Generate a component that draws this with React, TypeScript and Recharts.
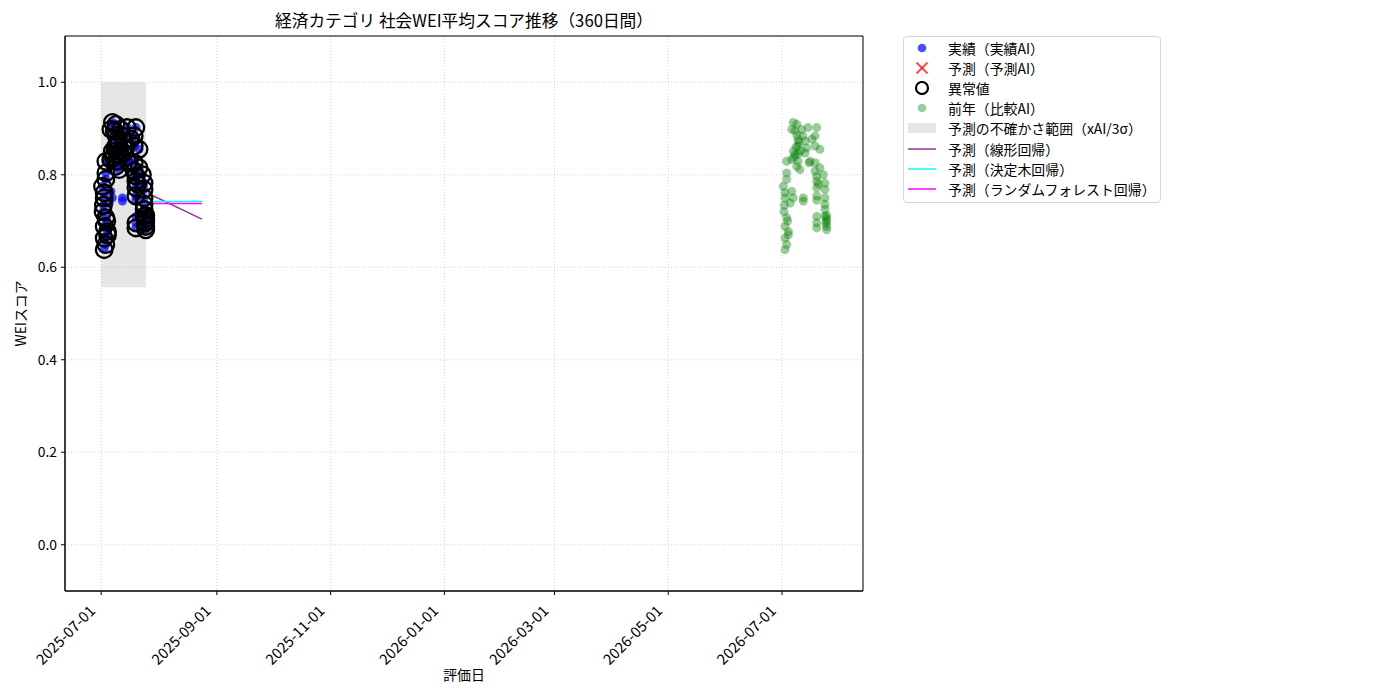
import React from 'react';
import { ComposedChart, Scatter, XAxis, YAxis, CartesianGrid, ReferenceArea, Label } from 'recharts';

const DAY_MS = 86400000;
const ACTUAL_START = '2025-07-01';
const PREV_YEAR_START = '2026-07-01';
const X_DOMAIN_DAYS = [-19.4, 408.4];
const Y_DOMAIN = [-0.1, 1.1];

// day offsets (from start date) and WEI scores of each evaluation
const dayOffsets = [
  0.7, 1.6, 1.6, 1.6, 1.6, 1.6, 2.5, 2.5, 2.5, 2.5, 2.5, 3.4, 3.4, 4.3, 5.2, 5.2, 5.2, 6.0, 6.0, 6.0,
  7.0, 7.9, 7.9, 8.6, 8.6, 8.6, 9.6, 10.5, 11.2, 11.4, 11.4, 12.3, 12.3, 13.2, 13.9, 15.0, 16.0, 17.7, 17.7, 17.7,
  17.7, 18.6, 18.6, 18.6, 18.6, 18.6, 18.6, 18.6, 18.6, 20.3, 20.3, 22.1, 23.0, 23.0, 23.0, 23.0, 23.0, 23.9, 23.9, 23.9,
  7.0, 8.0, 8.6, 9.0, 7.5, 6.5, 10.0, 14.5, 23.9, 23.9, 23.5, 23.0, 18.6, 19.5, 3.0, 1.0, 1.2,
];
const scores = [
  0.775, 0.761, 0.750, 0.688, 0.663, 0.638, 0.829, 0.804, 0.790, 0.707, 0.649, 0.677, 0.670, 0.739, 0.898, 0.833, 0.764, 0.913, 0.851, 0.750,
  0.844, 0.909, 0.818, 0.876, 0.862, 0.829, 0.811, 0.898, 0.884, 0.750, 0.743, 0.873, 0.847, 0.858, 0.902, 0.829, 0.877, 0.884, 0.862, 0.826,
  0.808, 0.902, 0.797, 0.786, 0.772, 0.754, 0.710, 0.696, 0.685, 0.855, 0.815, 0.800, 0.782, 0.768, 0.750, 0.736, 0.710, 0.699, 0.688, 0.681,
  0.895, 0.885, 0.845, 0.870, 0.860, 0.838, 0.852, 0.826, 0.705, 0.712, 0.695, 0.725, 0.745, 0.780, 0.700, 0.720, 0.734,
];
const anomalyFlags = [
  1, 1, 1, 1, 1, 1, 1, 1, 1, 1, 1, 1, 1, 0, 1, 1, 0, 1, 1, 0,
  1, 1, 1, 1, 1, 1, 1, 1, 1, 0, 0, 1, 1, 1, 1, 1, 1, 1, 1, 1,
  1, 1, 1, 1, 1, 1, 0, 1, 1, 1, 1, 1, 1, 1, 1, 1, 1, 1, 1, 1,
  1, 1, 1, 1, 1, 1, 1, 1, 1, 1, 1, 1, 0, 1, 1, 1, 1,
];

// uncertainty band and predictions
const bandDays = [0, 24];
const bandRange = [0.557, 1.0];
const predDays = [25, 54];
const linearPred = [0.76, 0.704];
const treePred = [0.742, 0.742];
const forestPred = [0.738, 0.738];

const xTickLabels = ['2025-07-01', '2025-09-01', '2025-11-01', '2026-01-01', '2026-03-01', '2026-05-01', '2026-07-01'];
const yTickValues = [0, 0.2, 0.4, 0.6, 0.8, 1.0];

const TITLE = '経済カテゴリ 社会WEI平均スコア推移（360日間）';
const FONT = '"Noto Sans CJK JP", "Noto Sans", sans-serif';

const startMs = Date.parse(ACTUAL_START);
const prevMs = Date.parse(PREV_YEAR_START);
const toMs = (base: number, d: number) => base + d * DAY_MS;

const actualData = dayOffsets.map((d, i) => ({ x: toMs(startMs, d), y: scores[i] }));
const anomalyData = dayOffsets
  .map((d, i) => ({ x: toMs(startMs, d), y: scores[i], a: anomalyFlags[i] }))
  .filter((p) => p.a === 1);
const prevData = dayOffsets.map((d, i) => ({ x: toMs(prevMs, d), y: scores[i] }));
const linearData = predDays.map((d, i) => ({ x: toMs(startMs, d), y: linearPred[i] }));
const treeData = predDays.map((d, i) => ({ x: toMs(startMs, d), y: treePred[i] }));
const forestData = predDays.map((d, i) => ({ x: toMs(startMs, d), y: forestPred[i] }));

const xDomain = [toMs(startMs, X_DOMAIN_DAYS[0]), toMs(startMs, X_DOMAIN_DAYS[1])];
const xTicks = xTickLabels.map((s) => Date.parse(s));

const XTick = (props: any) => {
  const { x, y, payload } = props;
  const label = new Date(payload.value).toISOString().slice(0, 10);
  return (
    <g transform={`translate(${x - 5},${y + 15})`}>
      <text x={0} y={0} textAnchor="end" transform="rotate(-45)" fontSize={14.8} fill="#000" fontFamily={FONT}>
        {label}
      </text>
    </g>
  );
};

const noShape = () => <g />;

const legendItems = [
  { kind: 'blue', label: '実績（実績AI）' },
  { kind: 'x', label: '予測（予測AI）' },
  { kind: 'ring', label: '異常値' },
  { kind: 'green', label: '前年（比較AI）' },
  { kind: 'band', label: '予測の不確かさ範囲（xAI/3σ）' },
  { kind: 'line', color: '#800080', opacity: 0.8, label: '予測（線形回帰）' },
  { kind: 'line', color: '#00ffff', opacity: 1, label: '予測（決定木回帰）' },
  { kind: 'line', color: '#ff00ff', opacity: 1, label: '予測（ランダムフォレスト回帰）' },
];

const LegendMarker = ({ item }: any) => {
  let el: any = null;
  if (item.kind === 'blue') el = <circle cx={14} cy={7} r={4.3} fill="#0000ff" fillOpacity={0.7} />;
  if (item.kind === 'green') el = <circle cx={14} cy={7} r={4.3} fill="#008000" fillOpacity={0.4} />;
  if (item.kind === 'ring') el = <circle cx={14} cy={7} r={6} fill="none" stroke="#000" strokeWidth={2.2} />;
  if (item.kind === 'x')
    el = (
      <g stroke="#ff0000" strokeOpacity={0.7} strokeWidth={2}>
        <line x1={8.5} y1={1.5} x2={19.5} y2={12.5} />
        <line x1={8.5} y1={12.5} x2={19.5} y2={1.5} />
      </g>
    );
  if (item.kind === 'band') el = <rect x={0} y={2} width={28} height={10} fill="#808080" fillOpacity={0.2} />;
  if (item.kind === 'line')
    el = <line x1={0} y1={7} x2={28} y2={7} stroke={item.color} strokeOpacity={item.opacity} strokeWidth={1.5} />;
  return (
    <svg width={28} height={14} style={{ display: 'block' }}>
      {el}
    </svg>
  );
};

export default function App() {
  return (
    <div style={{ position: 'relative', width: 1400, height: 700, background: '#fff', fontFamily: FONT }}>
      <style>{`body{margin:0;}`}</style>
      <div
        style={{
          position: 'absolute',
          left: 65,
          width: 798,
          top: 9,
          textAlign: 'center',
          fontSize: 16.7,
          lineHeight: '22px',
          color: '#000',
        }}
      >
        {TITLE}
      </div>
      <ComposedChart width={1400} height={700} margin={{ top: 36, right: 537, bottom: 0, left: 0 }}>
        <CartesianGrid stroke="#b0b0b0" strokeOpacity={0.7} strokeDasharray="1 2" strokeWidth={0.8} />
        <XAxis
          dataKey="x"
          type="number"
          domain={xDomain}
          allowDataOverflow
          ticks={xTicks}
          tick={<XTick />}
          tickSize={4}
          height={109}
          stroke="#000"
          interval={0}
        >
          <Label
            content={(p: any) => {
              const vb = p.viewBox;
              return (
                <text x={vb.x + vb.width / 2} y={vb.y + 89} textAnchor="middle" fontSize={13.9} fontFamily={FONT} fill="#000">
                  評価日
                </text>
              );
            }}
          />
        </XAxis>
        <YAxis
          dataKey="y"
          type="number"
          domain={Y_DOMAIN}
          allowDataOverflow
          ticks={yTickValues}
          tickFormatter={(v: number) => v.toFixed(1)}
          tick={{ fontSize: 13.9, fill: '#000', fontFamily: FONT }}
          tickSize={4}
          tickMargin={4}
          width={65}
          stroke="#000"
          interval={0}
        >
          <Label
            content={(p: any) => {
              const vb = p.viewBox;
              const cx = 20;
              const cy = vb.y + vb.height / 2;
              return (
                <text
                  x={cx}
                  y={cy}
                  textAnchor="middle"
                  dominantBaseline="central"
                  transform={`rotate(-90, ${cx}, ${cy})`}
                  fontSize={13.9}
                  fontFamily={FONT}
                  fill="#000"
                >
                  WEIスコア
                </text>
              );
            }}
          />
        </YAxis>
        <ReferenceArea
          x1={toMs(startMs, bandDays[0])}
          x2={toMs(startMs, bandDays[1])}
          y1={bandRange[0]}
          y2={bandRange[1]}
          fill="#808080"
          fillOpacity={0.2}
          stroke="none"
        />
        <ReferenceArea
          x1={xDomain[0]}
          x2={xDomain[1]}
          y1={Y_DOMAIN[0]}
          y2={Y_DOMAIN[1]}
          fill="none"
          stroke="#000"
          strokeWidth={1}
        />
        <Scatter
          data={linearData}
          line={{ stroke: '#800080', strokeOpacity: 0.8, strokeWidth: 1.5 }}
          shape={noShape}
          isAnimationActive={false}
        />
        <Scatter
          data={treeData}
          line={{ stroke: '#00ffff', strokeWidth: 1.5 }}
          shape={noShape}
          isAnimationActive={false}
        />
        <Scatter
          data={forestData}
          line={{ stroke: '#ff00ff', strokeWidth: 1.5 }}
          shape={noShape}
          isAnimationActive={false}
        />
        <Scatter
          data={actualData}
          shape={(p: any) => <circle cx={p.cx} cy={p.cy} r={4.5} fill="#0000ff" fillOpacity={0.7} />}
          isAnimationActive={false}
        />
        <Scatter
          data={anomalyData}
          shape={(p: any) => <circle cx={p.cx} cy={p.cy} r={8.3} fill="none" stroke="#000" strokeWidth={2.3} />}
          isAnimationActive={false}
        />
        <Scatter
          data={prevData}
          shape={(p: any) => <circle cx={p.cx} cy={p.cy} r={4.5} fill="#008000" fillOpacity={0.4} />}
          isAnimationActive={false}
        />
      </ComposedChart>
      <div
        style={{
          position: 'absolute',
          left: 903,
          top: 36,
          width: 256,
          height: 165,
          border: '1px solid #d6d6d6',
          borderRadius: 4,
          background: 'rgba(255,255,255,0.8)',
          boxSizing: 'content-box',
        }}
      >
        {legendItems.map((it, i) => (
          <div
            key={i}
            style={{
              position: 'absolute',
              left: 4,
              top: 4 + i * 20.1,
              height: 14,
              display: 'flex',
              alignItems: 'center',
              whiteSpace: 'nowrap',
            }}
          >
            <LegendMarker item={it} />
            <span style={{ marginLeft: 12, fontSize: 13.9, lineHeight: '14px', color: '#000' }}>{it.label}</span>
          </div>
        ))}
      </div>
    </div>
  );
}
